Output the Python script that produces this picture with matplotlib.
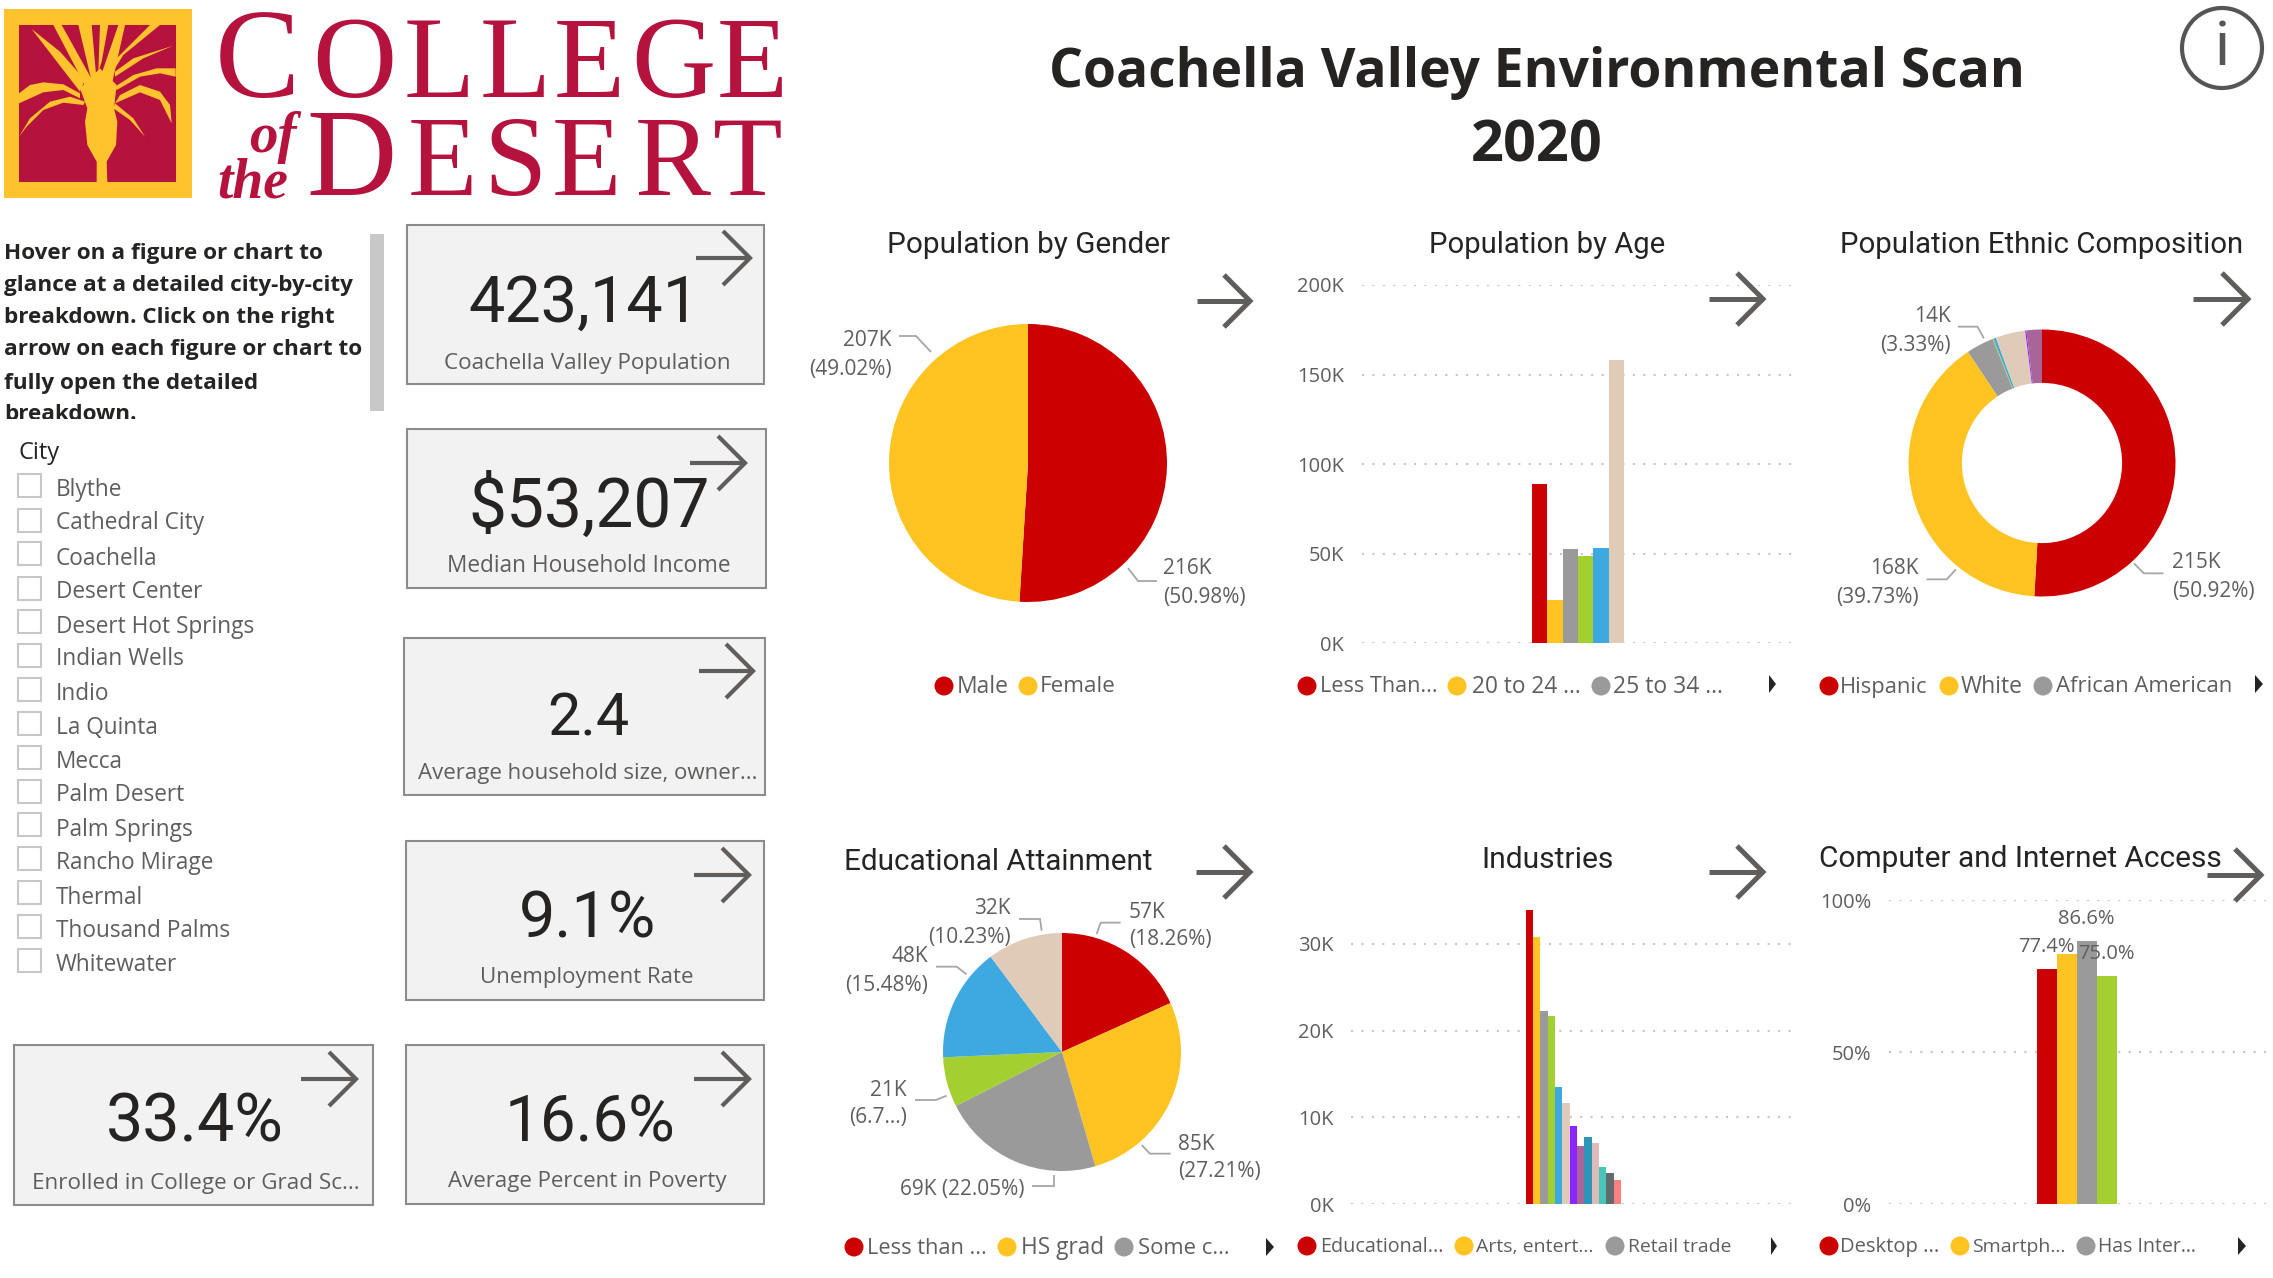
import matplotlib
matplotlib.use("Agg")
import matplotlib.pyplot as plt
from matplotlib.patches import Rectangle, Circle, Polygon
from matplotlib.transforms import Bbox

W, H = 2273, 1278
BODY = ['Open Sans', 'DejaVu Sans']
HEAD = ['Roboto', 'DejaVu Sans']
GREY = '#605e5c'
DARK = '#252423'
RED, YEL, GRA, GRN, BLU, BEI = '#cc0000', '#ffc322', '#9a9a9a', '#a3cf30', '#3ea8e0', '#e0cbb8'
PUR, MAU, TEA, PNK, AQU, DGR, SAL = '#8b24ff', '#a9659a', '#2e95b8', '#dcbcb8', '#48c4b8', '#5f6b6d', '#fd8080'

# ---- data ----
cities = ['Blythe', 'Cathedral City', 'Coachella', 'Desert Center', 'Desert Hot Springs', 'Indian Wells',
          'Indio', 'La Quinta', 'Mecca', 'Palm Desert', 'Palm Springs', 'Rancho Mirage', 'Thermal',
          'Thousand Palms', 'Whitewater']
intro = ['Hover on a figure or chart to', 'glance at a detailed city-by-city', 'breakdown. Click on the right',
         'arrow on each figure or chart to', 'fully open the detailed', 'breakdown.']
card_values = ['423,141', '$53,207', '2.4', '9.1%', '33.4%', '16.6%']
card_labels = ['Coachella Valley Population', 'Median Household Income', 'Average household size, owner...',
               'Unemployment Rate', 'Enrolled in College or Grad Sc...', 'Average Percent in Poverty']

gender_values = [50.98, 49.02]
ethnic_values = [50.92, 39.73, 3.33, 0.1, 0.3, 3.6, 0.15, 1.87]
edu_values = [18.26, 27.21, 22.05, 6.77, 15.48, 10.23]

age_values = [89.1, 23.9, 52.4, 48.6, 53.1, 158.0]
age_ticks = [0, 50, 100, 150, 200]
age_ticklabels = ['0K', '50K', '100K', '150K', '200K']

industry_values = [33.9, 30.8, 22.3, 21.7, 13.5, 11.65, 9.0, 6.65, 7.7, 7.04, 4.27, 3.54, 2.77]
industry_ticks = [0, 10, 20, 30]
industry_ticklabels = ['0K', '10K', '20K', '30K']

access_values = [77.4, 82.1, 86.6, 75.0]
access_ticks = [0, 50, 100]
access_ticklabels = ['0%', '50%', '100%']

fig = plt.figure(figsize=(W / 100, H / 100), dpi=100, facecolor='white')
renderer = fig.canvas.get_renderer()


def axes_px(x0, y0, x1, y1, **kw):
    return fig.add_axes([x0 / W, 1 - y1 / H, (x1 - x0) / W, (y1 - y0) / H], **kw)


def pie_px(cx, cy, r, values, colors, width=None):
    ax = axes_px(cx - r, cy - r, cx + r, cy + r)
    wp = {'linewidth': 0}
    if width:
        wp['width'] = width
    ax.pie(values, colors=colors, startangle=90, counterclock=False, radius=1, wedgeprops=wp)
    ax.set_xlim(-1, 1)
    ax.set_ylim(-1, 1)
    ax.axis('off')
    return ax


def bars_px(x0, y0, x1, y1, bar_left, bar_w, values, colors, ylim, ticks, ticklabels, pad):
    ax = axes_px(x0, y0, x1, y1)
    pos = list(range(len(values)))
    ax.bar(pos, values, width=1.0, color=colors, linewidth=0, zorder=3)
    left = -0.5 - (bar_left - x0) / bar_w
    ax.set_xlim(left, left + (x1 - x0) / bar_w)
    ax.set_ylim(*ylim)
    ax.set_yticks(ticks)
    ax.set_yticklabels(ticklabels, fontfamily=BODY, fontsize=14.5, color=GREY)
    ax.set_xticks([])
    ax.tick_params(axis='y', length=0, pad=pad)
    ax.grid(axis='y', color='#c8c6c4', linewidth=1.5, linestyle=(0, (1, 4)), zorder=1)
    ax.set_axisbelow(True)
    for s in ax.spines.values():
        s.set_visible(False)
    ax.patch.set_alpha(0)
    return ax


# ---- charts ----
pie_px(1028, 463, 139, gender_values, [RED, YEL])
pie_px(2042, 463, 133.5, ethnic_values, [RED, YEL, GRA, GRN, BLU, BEI, PUR, MAU], width=0.4)
pie_px(1062, 1052, 119, edu_values, [RED, YEL, GRA, GRN, BLU, BEI])

bars_px(1362, 285, 1793, 643, 1532, 15.33, age_values, [RED, YEL, GRA, GRN, BLU, BEI],
        (0, 200), age_ticks, age_ticklabels, 13)
bars_px(1351, 858, 1793, 1204, 1525.7, 7.33, industry_values,
        [RED, YEL, GRA, GRN, BLU, BEI, PUR, MAU, TEA, PNK, AQU, DGR, SAL],
        (0, 346 / 8.67), industry_ticks, industry_ticklabels, 12.6)
bars_px(1889, 900, 2273, 1204, 2037, 19.9, access_values, [RED, YEL, GRA, GRN],
        (0, 100), access_ticks, access_ticklabels, 13)

# ---- overlay in pixel coordinates ----
ov = fig.add_axes([0, 0, 1, 1], zorder=10)
ov.set_xlim(0, W)
ov.set_ylim(H, 0)
ov.axis('off')
ov.patch.set_alpha(0)


def T(x, y, s, w=None, size=15.5, ha='left', va='center', color=GREY, family=BODY, weight='normal', **kw):
    yy = y + 2 if va == 'center' else y
    t = ov.text(x, yy, s, ha=ha, va=va, color=color, fontfamily=family, fontweight=weight, fontsize=size, **kw)
    if w:
        ext = t.get_window_extent(renderer)
        t.set_fontsize(size * w / ext.width)
    return t


def line(pts, color=GREY, lw=2.5, cap='butt', join='miter', z=5):
    ov.plot([p[0] for p in pts], [p[1] for p in pts], color=color, lw=lw, solid_capstyle=cap,
            solid_joinstyle=join, zorder=z)


def arrow(x0, x1, y, lw=3.2, head=26, half=26):
    line([(x0, y), (x1, y)], lw=lw, z=8)
    line([(x1 - head, y - half), (x1, y), (x1 - head, y + half)], lw=lw, z=8)


def tri(x0, x1, y):
    ov.add_patch(Polygon([(x0, y - 9), (x1, y), (x0, y + 9)], closed=True, color=DARK, lw=0))


def legend(y, items):
    for cx, col, tx, s, w in items:
        ov.add_patch(Circle((cx, y), 9.5, color=col, lw=0))
        T(tx, y - 1, s, w=w, size=15.5)


# logo
LOGO = '#b5123e'
GOLD = '#ffc32e'
ov.add_patch(Rectangle((4, 9), 188, 189, color=GOLD, lw=0))
ov.add_patch(Rectangle((19, 25), 157, 157, color=LOGO, lw=0))
fronds = [
    [(290, 535), (322, 535), (320, 470), (348, 420), (352, 350), (342, 310), (350, 240), (300, 190), (240, 250),
     (262, 310), (255, 350), (262, 420), (290, 470)],
    [(95, 72), (180, 140), (255, 225), (240, 260)],
    [(160, 60), (185, 60), (285, 240), (265, 260)],
    [(235, 60), (275, 60), (290, 230), (280, 250)],
    [(300, 60), (325, 60), (305, 170), (295, 200)],
    [(355, 60), (375, 60), (335, 240), (300, 220)],
    [(450, 60), (480, 60), (370, 150), (345, 190), (330, 180)],
    [(520, 122), (430, 160), (345, 215), (345, 200), (400, 160)],
    [(527, 190), (470, 190), (400, 210), (345, 245), (350, 255), (420, 215), (480, 205), (527, 215)],
    [(515, 355), (510, 300), (480, 260), (420, 240), (360, 270), (345, 295), (420, 262), (480, 285)],
    [(435, 395), (400, 340), (345, 295), (340, 310), (390, 345)],
    [(57, 265), (90, 240), (130, 232), (190, 238), (240, 265), (240, 280), (190, 255), (130, 262), (57, 295)],
    [(57, 395), (90, 340), (150, 290), (210, 275), (255, 290), (250, 300), (190, 293), (130, 315), (80, 365)],
]
for f in fronds:
    ov.add_patch(Polygon([(x / 3, 5 + y / 3) for x, y in f], closed=True, color=GOLD, lw=0))
serif = ['Liberation Serif', 'DejaVu Serif']
for s, x0, x1, size in [('C', 219, 295, 92), ('O', 316, 393, 84), ('L', 406, 472, 84), ('L', 482, 548, 84),
                        ('E', 558, 620, 84), ('G', 633, 714, 84), ('E', 722, 783, 84)]:
    ov.text((x0 + x1) / 2, 97, s, ha='center', va='baseline', color=LOGO, family=serif, fontsize=size)
for s, x0, x1, size in [('D', 310, 393, 90), ('E', 411, 474, 82), ('S', 490, 541, 82), ('E', 553, 620, 82),
                        ('R', 633, 712, 82), ('T', 712, 783, 82)]:
    ov.text((x0 + x1) / 2, 195, s, ha='center', va='baseline', color=LOGO, family=serif, fontsize=size)
ov.text(273, 152, 'of', ha='center', va='baseline', color=LOGO, family=serif, style='italic', weight='bold', fontsize=41)
ov.text(253, 197, 'the', ha='center', va='baseline', color=LOGO, family=serif, style='italic', weight='bold', fontsize=40)

# title and info
T(1537, 71, 'Coachella Valley Environmental Scan', w=976, size=40, ha='center', color=DARK, weight='bold')
T(1537, 145, '2020', w=132, size=40, ha='center', color=DARK, weight='bold')
ov.add_patch(Circle((2222, 48), 40, fill=False, ec='#555555', lw=3))
T(2222, 46, 'i', size=44, ha='center', color='#555555', family=HEAD)

# intro
clip = Bbox([[0, H - 419], [W, H]])
for s, y in zip(intro, [252, 284, 316, 348, 381, 413]):
    t = T(4, y, s, size=16.2, color=DARK, weight='bold')
    t.set_clip_box(clip)
    t.set_clip_on(True)
ov.add_patch(Rectangle((370, 234), 14, 177, color='#c8c8c8', lw=0))

# slicer
T(18, 451, 'City', size=17, color=DARK)
item_y = [125, 185, 250, 310, 374, 434, 497, 559, 621, 681, 745, 806, 869, 930, 992]
box_y = [121, 185, 245, 309, 370, 432, 493, 556, 617, 680, 741, 803, 864, 927, 989]
for c, iy, by in zip(cities, item_y, box_y):
    T(56, 420 + iy * 0.5472, c, size=16.3)
    ov.add_patch(Rectangle((18, 420 + by * 0.5472 - 12), 23, 23, fc='white', ec='#c8c8c8', lw=1.5))

# cards
cards = [
    (407, 225, 764, 384, 468, 699, 322, 444, 731, 362, 696, 750, 258),
    (407, 429, 766, 588, 469, 710, 527, 447, 731, 565, 690, 745, 463),
    (404, 638, 765, 795, 547, 629, 735, 417, 758, 773, 699, 753, 671),
    (406, 841, 764, 1000, 519, 656, 937, 480, 694, 977, 694, 749, 875),
    (14, 1045, 373, 1205, 106, 284, 1142, 31, 360, 1182, 301, 356, 1079),
    (406, 1045, 764, 1204, 504, 675, 1142, 447, 727, 1181, 694, 749, 1079),
]
for (x0, y0, x1, y1, vx0, vx1, vy, lx0, lx1, ly, ax0, ax1, ay), v, l in zip(cards, card_values, card_labels):
    ov.add_patch(Rectangle((x0, y0), x1 - x0, y1 - y0, fc='#f2f2f2', ec='#8c8c8c', lw=1.5))
    T((vx0 + vx1) / 2, vy, v, w=vx1 - vx0, size=48, ha='center', va='baseline', color=DARK, family=HEAD)
    T((lx0 + lx1) / 2, ly - 1, l, w=lx1 - lx0, ha='center')
    arrow(ax0, ax1, ay, lw=3, head=27, half=27)

# chart titles
for s, x0, x1, y in [('Population by Gender', 887, 1170, 243), ('Population by Age', 1429, 1665, 243),
                     ('Population Ethnic Composition', 1840, 2243, 243), ('Educational Attainment', 844, 1152, 860),
                     ('Industries', 1482, 1614, 858), ('Computer and Internet Access', 1819, 2221, 857)]:
    T((x0 + x1) / 2, y, s, w=x1 - x0, size=20, ha='center', color=DARK, family=HEAD)

# chart arrows
for x0, x1, y in [(1197, 1250, 301), (1709, 1763, 299), (2193, 2248, 299), (1196, 1250, 872), (1709, 1763, 872),
                  (2207, 2261, 875)]:
    arrow(x0, x1, y, lw=3.6, head=26, half=26)

# data labels
for x, y, s, ha in [(1163, 567, '216K', 'left'), (1163, 596, '(50.98%)', 'left'),
                    (892, 338, '207K', 'right'), (892, 367, '(49.02%)', 'right'),
                    (2172, 561, '215K', 'left'), (2172, 589, '(50.92%)', 'left'),
                    (1919, 567, '168K', 'right'), (1919, 596, '(39.73%)', 'right'),
                    (1951, 315, '14K', 'right'), (1951, 343, '(3.33%)', 'right'),
                    (1129, 911, '57K', 'left'), (1129, 938, '(18.26%)', 'left'),
                    (1178, 1142, '85K', 'left'), (1178, 1170, '(27.21%)', 'left'),
                    (1024, 1188, '69K (22.05%)', 'right'),
                    (907, 1088, '21K', 'right'), (907, 1116, '(6.7...)', 'right'),
                    (928, 955, '48K', 'right'), (928, 983, '(15.48%)', 'right'),
                    (1011, 907, '32K', 'right'), (1011, 936, '(10.23%)', 'right')]:
    T(x, y, s, size=15, ha=ha)
for s, x, y in [('77.4%', 2046, 945), ('86.6%', 2086, 917), ('75.0%', 2106, 952)]:
    T(x, y, s, size=14.5, ha='center')


# leaders
def z4(pts):
    return [(790 + x / 3, 820 + y / 3) for x, y in pts]


def z2(pts):
    return [(1250 + x * 0.6524, 220 + y / 3) for x, y in pts]


LC = '#a6a6a6'
for pts in [z4([(920, 342), (932, 308), (992, 308)]), z4([(1055, 975), (1080, 1001), (1142, 1001)]),
            z4([(792, 1065), (792, 1099), (727, 1099)]), z4([(470, 827), (438, 840), (375, 840)]),
            z4([(530, 463), (500, 440), (438, 440)]), z4([(755, 332), (750, 297), (687, 297)]),
            z2([(1355, 1030), (1370, 1060), (1400, 1060)]), z2([(1082, 1048), (1068, 1078), (1037, 1078)]),
            z2([(1125, 355), (1115, 320), (1085, 320)]),
            [(1128, 568), (1138, 581), (1157, 581)], [(931, 352), (916, 336), (899, 336)]]:
    line(pts, color=LC, lw=1.3)

# legends
legend(686, [(944, RED, 957, 'Male', 52), (1028, YEL, 1040, 'Female', 76)])
legend(686, [(1307, RED, 1320, 'Less Than...', 118), (1457, YEL, 1472, '20 to 24 ...', 109),
             (1601, GRA, 1613, '25 to 34 ...', 110)])
tri(1769, 1776, 684)
legend(686, [(1829, RED, 1840, 'Hispanic', 88), (1949, YEL, 1961, 'White', 62),
             (2043, GRA, 2056, 'African American', 177)])
tri(2255, 2263, 684)
legend(1247, [(854, RED, 867, 'Less than ...', 120), (1007, YEL, 1021, 'HS grad', 83),
              (1124, GRA, 1138, 'Some c...', 92)])
tri(1266, 1274, 1247)
legend(1246, [(1307, RED, 1320, 'Educational...', 124), (1464, YEL, 1476, 'Arts, entert...', 118),
              (1615, GRA, 1628, 'Retail trade', 104)])
tri(1771, 1777, 1246)
legend(1246, [(1829, RED, 1840, 'Desktop ...', 99), (1960, YEL, 1972, 'Smartph...', 94),
              (2086, GRA, 2098, 'Has Inter...', 99)])
tri(2238, 2246, 1246)

fig.savefig('out.png', dpi=100)
